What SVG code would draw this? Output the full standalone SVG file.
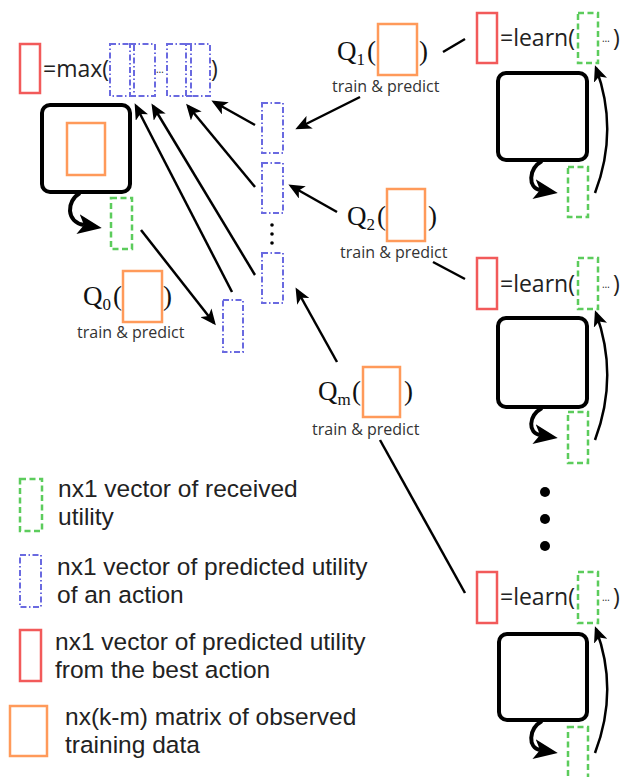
<svg xmlns="http://www.w3.org/2000/svg" width="620" height="777" viewBox="0 0 620 777">
<defs>
<style>
.red{fill:none;stroke:#f25a5a;stroke-width:2.5}
.org{fill:none;stroke:#ff9a5a;stroke-width:2.5}
.grn{fill:none;stroke:#5ccc5c;stroke-width:2.5;stroke-dasharray:6 3.5}
.blu{fill:none;stroke:#6a6ae0;stroke-width:2;stroke-dasharray:6 2.5 1.5 2.5}
.box{fill:none;stroke:#000;stroke-width:4}
.t{font-family:"Open Sans","Liberation Sans",sans-serif;fill:#222}
.eq{font-size:23px}
.tp{font-family:"Open Sans","Liberation Sans",sans-serif;font-size:16px;fill:#333}
.q{font-family:"Liberation Serif","DejaVu Serif",serif;font-size:27px;fill:#111}
.sub{font-size:17px}
.ell{font-family:"Open Sans","Liberation Sans",sans-serif;font-size:10px;fill:#222}
.lg{font-family:"Liberation Sans",Arial,sans-serif;font-size:24.5px;fill:#222}
.ln{fill:none;stroke:#000;stroke-width:2.5}
.cur{fill:none;stroke:#000;stroke-width:4}
</style>
<marker id="ah" markerUnits="userSpaceOnUse" markerWidth="18" markerHeight="14" refX="13" refY="7" orient="auto">
<path d="M0,0 L16,7 L0,14 L4,7 z" fill="#000"/>
</marker>
<marker id="big" markerUnits="userSpaceOnUse" markerWidth="26" markerHeight="20" refX="6" refY="10" orient="auto">
<path d="M0,0 L24,10 L0,20 L6,10 z" fill="#000"/>
</marker>
</defs>
<rect width="620" height="777" fill="#fff"/>

<g id="max">
<rect class="red" x="20" y="44" width="20" height="49"/>
<text class="t eq" x="43" y="77">=max(</text>
<rect class="blu" x="110" y="44" width="24" height="52"/>
<rect class="blu" x="130" y="44" width="25" height="52"/>
<text class="ell" x="156" y="73">…</text>
<rect class="blu" x="167" y="44" width="24" height="52"/>
<rect class="blu" x="186" y="44" width="24" height="52"/>
<text class="t eq" x="211" y="77">)</text>
</g>

<g id="env0">
<rect class="box" x="42" y="105" width="88" height="87" rx="8"/>
<rect class="org" x="67" y="123" width="38" height="52"/>
</g>
<g id="g0"><rect class="grn" x="111" y="198" width="21" height="51"/></g>

<g id="q0">
<text class="q" x="83" y="305">Q<tspan class="sub" dy="5">0</tspan></text>
<text class="q" x="113" y="305">(</text>
<rect class="org" x="123" y="271" width="39" height="51"/>
<text class="q" x="163" y="305">)</text>
<text class="tp" x="77" y="338">train &amp; predict</text>
</g>
<g id="b0"><rect class="blu" x="223" y="300" width="20" height="52"/></g>

<g id="col">
<rect class="blu" x="262" y="103" width="21" height="50"/>
<rect class="blu" x="262" y="163" width="21" height="50"/>
<circle cx="272" cy="225" r="1.8" fill="#000"/>
<circle cx="272" cy="234" r="1.8" fill="#000"/>
<circle cx="272" cy="243" r="1.8" fill="#000"/>
<rect class="blu" x="262" y="253" width="21" height="50"/>
</g>

<g id="q1">
<text class="q" x="337" y="60">Q<tspan class="sub" dy="5">1</tspan></text>
<text class="q" x="367" y="60">(</text>
<rect class="org" x="378" y="24" width="39" height="51"/>
<text class="q" x="419" y="60">)</text>
<text class="tp" x="332" y="92">train &amp; predict</text>
</g>
<g id="q2">
<text class="q" x="347" y="225">Q<tspan class="sub" dy="5">2</tspan></text>
<text class="q" x="377" y="225">(</text>
<rect class="org" x="387" y="189" width="38" height="52"/>
<text class="q" x="428" y="225">)</text>
<text class="tp" x="340" y="258">train &amp; predict</text>
</g>
<g id="qm">
<text class="q" x="318" y="400">Q<tspan class="sub" dy="5">m</tspan></text>
<text class="q" x="352" y="400">(</text>
<rect class="org" x="363" y="367" width="37" height="50"/>
<text class="q" x="404" y="400">)</text>
<text class="tp" x="312" y="435">train &amp; predict</text>
</g>

<g id="learn1">
<rect class="red" x="477" y="13" width="20" height="50"/>
<text class="t eq" x="500" y="46">=learn(</text>
<rect class="grn" x="578" y="13" width="20" height="50"/>
<text class="ell" x="602" y="42">…</text>
<text class="t eq" x="613" y="46">)</text>
</g>
<g id="env1">
<rect class="box" x="498" y="73" width="89" height="87" rx="8"/>
</g>
<g id="g1"><rect class="grn" x="568" y="167" width="20" height="50"/></g>

<g id="learn2">
<rect class="red" x="477" y="258" width="20" height="51"/>
<text class="t eq" x="500" y="292">=learn(</text>
<rect class="grn" x="578" y="258" width="20" height="51"/>
<text class="ell" x="602" y="288">…</text>
<text class="t eq" x="613" y="292">)</text>
</g>
<g id="env2">
<rect class="box" x="498" y="318" width="89" height="89" rx="8"/>
</g>
<g id="g2"><rect class="grn" x="568" y="412" width="20" height="51"/></g>

<g id="dots">
<circle cx="545" cy="492" r="5" fill="#000"/>
<circle cx="545" cy="519" r="5" fill="#000"/>
<circle cx="545" cy="546" r="5" fill="#000"/>
</g>

<g id="learn3">
<rect class="red" x="477" y="572" width="20" height="51"/>
<text class="t eq" x="500" y="605">=learn(</text>
<rect class="grn" x="578" y="572" width="20" height="51"/>
<text class="ell" x="602" y="601">…</text>
<text class="t eq" x="613" y="605">)</text>
</g>
<g id="env3">
<rect class="box" x="499" y="634" width="88" height="86" rx="8"/>
</g>
<g id="g3"><rect class="grn" x="568" y="727" width="20" height="52"/></g>

<g id="legend">
<rect class="grn" x="20" y="479" width="22" height="52"/>
<text class="lg" x="58" y="497">nx1 vector of received<tspan x="58" dy="28">utility</tspan></text>
<rect class="blu" x="20" y="555" width="21" height="52"/>
<text class="lg" x="57" y="575">nx1 vector of predicted utility<tspan x="57" dy="28">of an action</tspan></text>
<rect class="red" x="20" y="630" width="21" height="51"/>
<text class="lg" x="55" y="650">nx1 vector of predicted utility<tspan x="55" dy="28">from the best action</tspan></text>
<rect class="org" x="10" y="706" width="37" height="50"/>
<text class="lg" x="65" y="725">nx(k-m) matrix of observed<tspan x="65" dy="27.5">training data</tspan></text>
</g>

<g id="connectors">
<line class="ln" x1="255" y1="125" x2="214" y2="102" marker-end="url(#ah)"/>
<line class="ln" x1="255" y1="187" x2="188" y2="106" marker-end="url(#ah)"/>
<line class="ln" x1="255" y1="275" x2="153" y2="106" marker-end="url(#ah)"/>
<line class="ln" x1="232" y1="292" x2="136" y2="106" marker-end="url(#ah)"/>
<line class="ln" x1="141" y1="230" x2="214" y2="323" marker-end="url(#ah)"/>
<line class="ln" x1="360" y1="97" x2="298" y2="128" marker-end="url(#ah)"/>
<line class="ln" x1="337" y1="212" x2="291" y2="186" marker-end="url(#ah)"/>
<line class="ln" x1="337" y1="362" x2="297" y2="290" marker-end="url(#ah)"/>
<line class="ln" x1="443" y1="52" x2="465" y2="39"/>
<line class="ln" x1="433" y1="262" x2="465" y2="279"/>
<line class="ln" x1="380" y1="440" x2="465" y2="593"/>
<path class="cur" d="M80,193 C66,201 66,222 84,225" marker-end="url(#big)"/>
<path class="cur" d="M542,161 C528,169 528,188 540,190" marker-end="url(#big)"/>
<path class="cur" d="M542,408 C528,416 528,433 540,435" marker-end="url(#big)"/>
<path class="cur" d="M542,721 C528,729 528,748 540,750" marker-end="url(#big)"/>
<path class="ln" d="M595,193 Q619,130 596,68" marker-end="url(#ah)"/>
<path class="ln" d="M595,440 Q619,376 596,313" marker-end="url(#ah)"/>
<path class="ln" d="M595,753 Q619,690 596,629" marker-end="url(#ah)"/>
</g>
</svg>
